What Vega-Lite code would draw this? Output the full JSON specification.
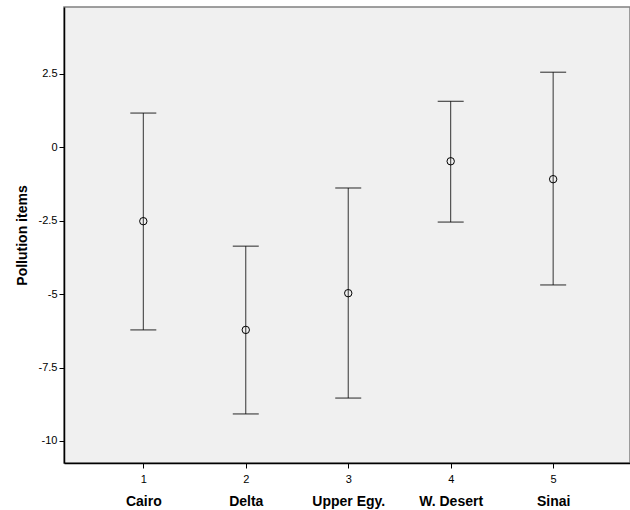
{
  "$schema": "https://vega.github.io/schema/vega-lite/v6.json",
  "width": 566,
  "height": 456,
  "autosize": {"type": "none"},
  "padding": {"left": 64, "top": 7, "right": 0, "bottom": 47},
  "config": {
    "font": "Liberation Sans",
    "view": {"fill": "#f0f0f0", "stroke": "#808080", "strokeWidth": 1.5},
    "axis": {"grid": false, "domainColor": "#000000", "tickColor": "#000000", "labelColor": "#000000", "titleColor": "#000000", "domainWidth": 1.5}
  },
  "data": {
    "values": [
      {"idx": 1, "region": "Cairo", "mean": -2.52, "lo": -6.22, "hi": 1.16},
      {"idx": 2, "region": "Delta", "mean": -6.22, "lo": -9.08, "hi": -3.37},
      {"idx": 3, "region": "Upper Egy.", "mean": -4.97, "lo": -8.54, "hi": -1.39},
      {"idx": 4, "region": "W. Desert", "mean": -0.48, "lo": -2.55, "hi": 1.56},
      {"idx": 5, "region": "Sinai", "mean": -1.09, "lo": -4.69, "hi": 2.55}
    ]
  },
  "layer": [
    {
      "mark": {"type": "rule", "color": "#333333", "strokeWidth": 1},
      "encoding": {
        "x": {"field": "idx", "type": "quantitative", "scale": {"domain": [0.226, 5.75], "nice": false, "zero": false},
          "axis": {"orient": "bottom", "values": [1, 2, 3, 4, 5], "title": null, "tickSize": 5, "labelFontSize": 11, "labelPadding": 5, "labelFlush": false}},
        "y": {"field": "lo", "type": "quantitative", "scale": {"domain": [-10.75, 4.77], "nice": false, "zero": false},
          "axis": {"values": [-10, -7.5, -5, -2.5, 0, 2.5], "labelExpr": "'' + datum.value", "tickSize": 5, "labelFontSize": 11, "labelPadding": 2, "labelFlush": false,
            "title": "Pollution items", "titleFontSize": 14, "titleFontWeight": "bold", "titlePadding": 9}},
        "y2": {"field": "hi"}
      }
    },
    {
      "mark": {"type": "tick", "orient": "horizontal", "color": "#000000", "size": 26, "thickness": 1.2},
      "encoding": {
        "x": {"field": "idx", "type": "quantitative", "axis": null},
        "y": {"field": "lo", "type": "quantitative"}
      }
    },
    {
      "mark": {"type": "tick", "orient": "horizontal", "color": "#000000", "size": 26, "thickness": 1.2},
      "encoding": {
        "x": {"field": "idx", "type": "quantitative", "axis": null},
        "y": {"field": "hi", "type": "quantitative"}
      }
    },
    {
      "mark": {"type": "point", "shape": "circle", "size": 55, "filled": false, "color": "#000000", "strokeWidth": 1, "opacity": 1},
      "encoding": {
        "x": {"field": "idx", "type": "quantitative",
          "axis": {"orient": "bottom", "values": [1, 2, 3, 4, 5], "title": null, "ticks": false, "domain": false,
            "labelExpr": "datum.value == 1 ? 'Cairo' : datum.value == 2 ? 'Delta' : datum.value == 3 ? 'Upper Egy.' : datum.value == 4 ? 'W. Desert' : 'Sinai'",
            "labelFontSize": 14, "labelFontWeight": "bold", "labelPadding": 31, "labelFlush": false, "labelOverlap": false}},
        "y": {"field": "mean", "type": "quantitative"}
      }
    }
  ],
  "resolve": {"axis": {"x": "independent"}}
}
